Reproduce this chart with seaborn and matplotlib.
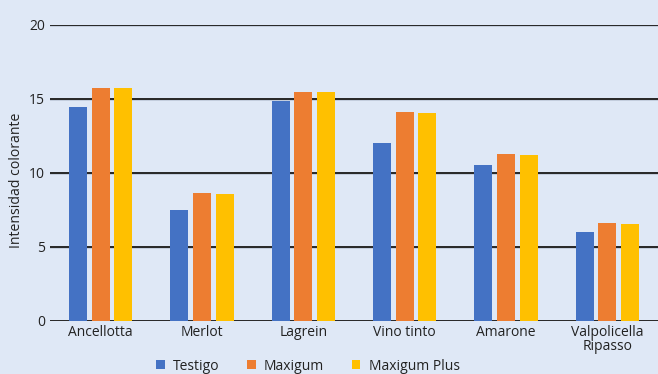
import matplotlib
matplotlib.use("Agg")
import matplotlib.pyplot as plt
import matplotlib.patheffects as pe
from matplotlib.patches import Patch
import seaborn as sns
import pandas as pd

categories = ["Ancellotta", "Merlot", "Lagrein", "Vino tinto", "Amarone", "Valpolicella\nRipasso"]
series = ["Testigo", "Maxigum", "Maxigum Plus"]
testigo = [14.43, 7.47, 14.83, 11.99, 10.51, 5.98]
maxigum = [15.71, 8.61, 15.44, 14.09, 11.25, 6.59]
maxigum_plus = [15.71, 8.55, 15.44, 14.02, 11.18, 6.52]
yticks = [0, 5, 10, 15, 20]
ylabel = "Intensidad colorante"

colors = ["#4472C4", "#ED7D31", "#FFC000"]
bg = "#DFE8F6"

rows = []
for s, vals in zip(series, [testigo, maxigum, maxigum_plus]):
    for c, v in zip(categories, vals):
        rows.append({"cat": c, "serie": s, "val": v})
df = pd.DataFrame(rows)

sns.set_theme(style="white")
plt.rcParams["font.family"] = ["Open Sans", "DejaVu Sans"]

fig = plt.figure(figsize=(6.58, 3.74), dpi=100, facecolor=bg)
ax = fig.add_axes([50 / 658, (374 - 320.5) / 374, 608 / 658, (320.5 - 24.5) / 374])
ax.set_facecolor(bg)

sns.barplot(data=df, x="cat", y="val", hue="serie", order=categories, hue_order=series,
            palette=colors, width=0.667, gap=0.2, saturation=1, ax=ax, legend=False,
            errorbar=None, zorder=3, linewidth=0, edgecolor="none")

ax.set_ylim(0, 20)
ax.set_xlim(-0.5, len(categories) - 0.5)
ax.set_yticks(yticks)
for y in yticks:
    ax.axhline(y, color="#262626", lw=1.4, zorder=1,
               path_effects=[pe.SimpleLineShadow(offset=(0, -1.2), shadow_color="#9aa4b8", alpha=0.4), pe.Normal()])
for s in ax.spines.values():
    s.set_visible(False)
ax.tick_params(axis="y", length=2, width=1.4, color="#262626", pad=1.5, labelsize=10, labelcolor="#222222")
ax.tick_params(axis="x", length=0, pad=3, labelsize=10, labelcolor="#222222")
for lab in ax.get_xticklabels():
    lab.set_linespacing(0.9)
ax.set_xlabel("")
ax.set_ylabel(ylabel, fontsize=10.1, color="#222222")
ax.yaxis.set_label_coords(-0.0424, 0.472)

handles = [Patch(facecolor=c, edgecolor="none", label=s) for c, s in zip(colors, series)]
fig.legend(handles=handles, loc="center", bbox_to_anchor=(308 / 658, 1 - 366 / 374), ncol=3,
           frameon=False, fontsize=10, handlelength=0.6, handleheight=0.6, handletextpad=0.6,
           columnspacing=2.0, labelcolor="#222222")

fig.savefig("out.png", dpi=100, facecolor=bg)
